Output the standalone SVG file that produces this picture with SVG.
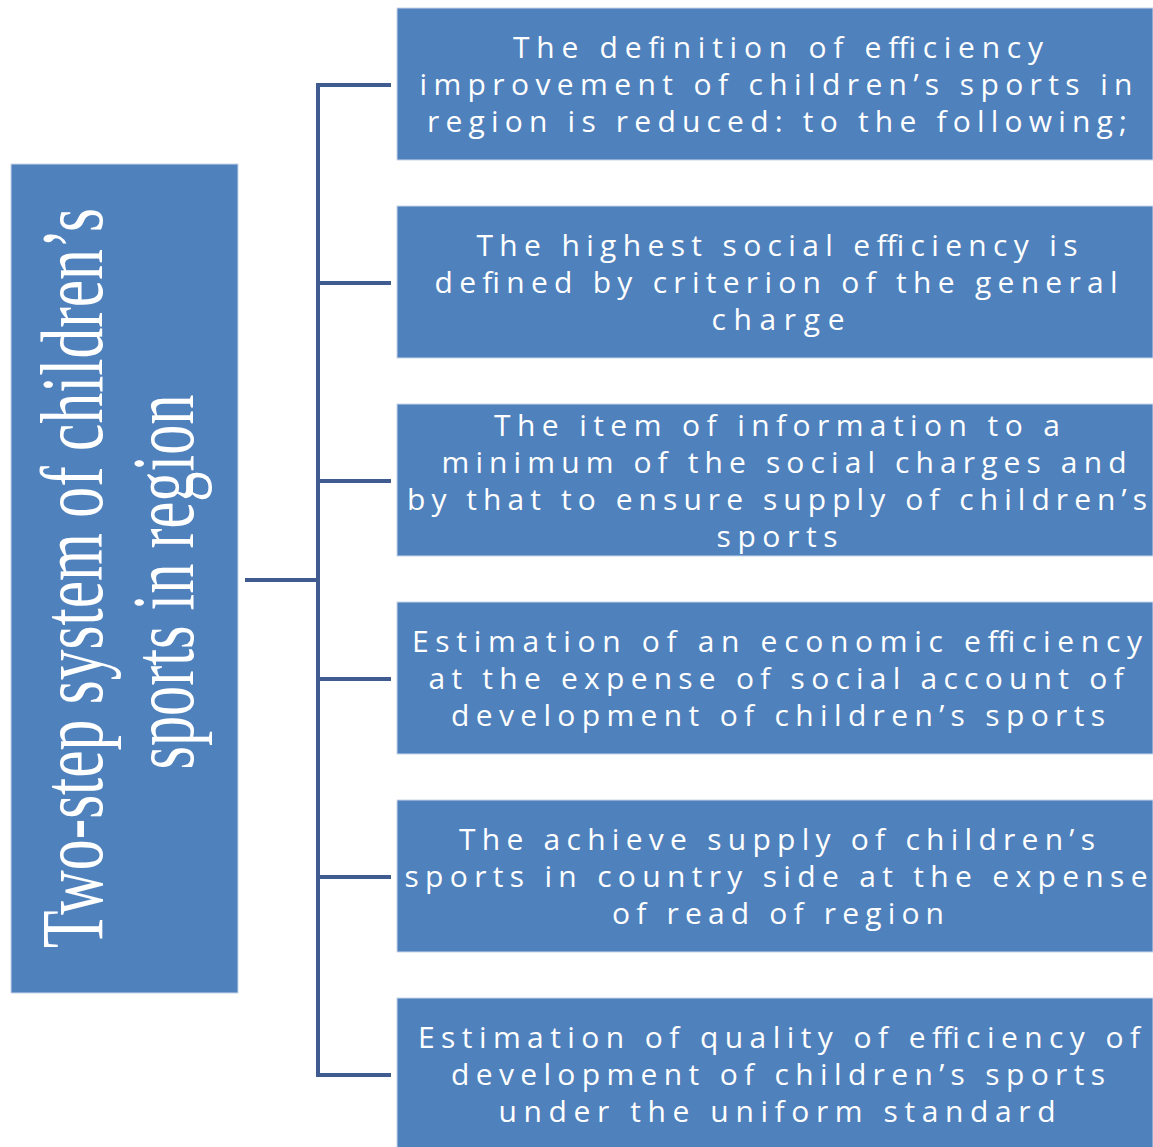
<svg xmlns="http://www.w3.org/2000/svg" width="1153" height="1147" viewBox="0 0 1153 1147">
<style>
.box{fill:#4f81bd;stroke:#c9d6ea;stroke-width:1}
.t{font-family:"Open Sans","Liberation Sans",sans-serif;font-size:30px;fill:#ffffff;text-anchor:middle}
.m{font-family:"Liberation Serif","Times New Roman",serif;font-size:60px;fill:#ffffff;text-anchor:middle}
.c{stroke:#3f5b8f;stroke-width:4;fill:none}
</style>
<rect width="1153" height="1147" fill="#ffffff"/>
<g id="connectors">
<line class="c" x1="245" y1="580" x2="318" y2="580"/>
<line class="c" x1="318" y1="84" x2="318" y2="1076"/>
<line class="c" x1="316" y1="85" x2="391" y2="85"/>
<line class="c" x1="318" y1="283" x2="391" y2="283"/>
<line class="c" x1="318" y1="481" x2="391" y2="481"/>
<line class="c" x1="318" y1="679" x2="391" y2="679"/>
<line class="c" x1="318" y1="877" x2="391" y2="877"/>
<line class="c" x1="316" y1="1075" x2="391" y2="1075"/>
</g>
<g id="root">
<rect class="box" x="11" y="164" width="227" height="829"/>
<text class="m" transform="translate(102,578) rotate(-90) scale(1,1.467)" textLength="740" lengthAdjust="spacingAndGlyphs">Two-step system of children’s</text>
<text class="m" transform="translate(193,582) rotate(-90) scale(1,1.467)" textLength="375" lengthAdjust="spacingAndGlyphs">sports in region</text>
</g>
<g id="n1">
<rect class="box" x="397" y="8" width="756" height="152"/>
<text class="t" x="778" y="58" textLength="530" lengthAdjust="spacing">The definition of efficiency</text>
<text class="t" x="776" y="95" textLength="713" lengthAdjust="spacing">improvement of children’s sports in</text>
<text class="t" x="777" y="132" textLength="700" lengthAdjust="spacing">region is reduced: to the following;</text>
</g>
<g id="n2">
<rect class="box" x="397" y="206" width="756" height="152"/>
<text class="t" x="777" y="256" textLength="601" lengthAdjust="spacing">The highest social efficiency is</text>
<text class="t" x="776" y="293" textLength="683" lengthAdjust="spacing">defined by criterion of the general</text>
<text class="t" x="778" y="330" textLength="133" lengthAdjust="spacing">charge</text>
</g>
<g id="n3">
<rect class="box" x="397" y="404" width="756" height="152"/>
<text class="t" x="777" y="436" textLength="566" lengthAdjust="spacing">The item of information to a</text>
<text class="t" x="784" y="473" textLength="685" lengthAdjust="spacing">minimum of the social charges and</text>
<text class="t" x="777" y="510" textLength="740" lengthAdjust="spacing">by that to ensure supply of children’s</text>
<text class="t" x="777" y="547" textLength="121" lengthAdjust="spacing">sports</text>
</g>
<g id="n4">
<rect class="box" x="397" y="602" width="756" height="152"/>
<text class="t" x="777" y="652" textLength="730" lengthAdjust="spacing">Estimation of an economic efficiency</text>
<text class="t" x="776" y="689" textLength="695" lengthAdjust="spacing">at the expense of social account of</text>
<text class="t" x="778" y="726" textLength="654" lengthAdjust="spacing">development of children’s sports</text>
</g>
<g id="n5">
<rect class="box" x="397" y="800" width="756" height="152"/>
<text class="t" x="777" y="850" textLength="636" lengthAdjust="spacing">The achieve supply of children’s</text>
<text class="t" x="776" y="887" textLength="743" lengthAdjust="spacing">sports in country side at the expense</text>
<text class="t" x="778" y="924" textLength="332" lengthAdjust="spacing">of read of region</text>
</g>
<g id="n6">
<rect class="box" x="397" y="998" width="756" height="152"/>
<text class="t" x="779" y="1048" textLength="722" lengthAdjust="spacing">Estimation of quality of efficiency of</text>
<text class="t" x="778" y="1085" textLength="654" lengthAdjust="spacing">development of children’s sports</text>
<text class="t" x="777" y="1122" textLength="557" lengthAdjust="spacing">under the uniform standard</text>
</g>
</svg>
